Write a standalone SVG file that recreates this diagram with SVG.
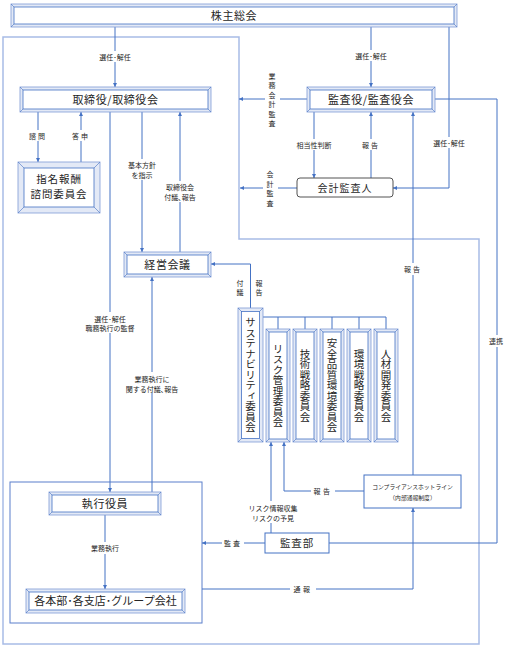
<svg xmlns="http://www.w3.org/2000/svg" width="506" height="647" viewBox="0 0 506 647">
<style>
text{font-family:"Noto Sans CJK JP","Noto Sans",sans-serif;fill:#262626}
.bo{fill:#e3e9f6;stroke:#7f9bd6;stroke-width:0.8}
.bi{fill:#fff;stroke:#4472c4;stroke-width:0.8}
.bd{fill:none;stroke:#4472c4;stroke-width:0.6}
.ln{fill:none;stroke:#4472c4;stroke-width:1}
.ar{marker-end:url(#ah)}
.t11{font-size:11px;text-anchor:middle;letter-spacing:0.6px}
.vt{font-size:10.5px;text-anchor:middle;writing-mode:vertical-rl}
.lb{font-size:7px;text-anchor:middle}
.bg{fill:#fff}
</style>
<defs>
<marker id="ah" viewBox="0 0 6 6" refX="6" refY="3" markerWidth="4" markerHeight="4" markerUnits="userSpaceOnUse" orient="auto">
<path d="M0,0 L6,3 L0,6 Z" fill="#4472c4"/>
</marker>
</defs>
<rect width="506" height="647" fill="#fff"/>

<g id="frames">
<path d="M3,37 H239 V239 H479 V644 H3 Z" fill="none" stroke="#a8bce6" stroke-width="1.5"/>
<rect x="10" y="482" width="192" height="141" fill="none" stroke="#5b7fcb" stroke-width="1"/>
</g>

<g id="connectors">
<path class="ln ar" d="M115,27 V87"/>
<path class="ln ar" d="M371,27 V87"/>
<path class="ln ar" d="M449,27 V188 H393"/>
<path class="ln ar" d="M307,99 H239"/>
<path class="ln ar" d="M297,188 H240"/>
<path class="ln ar" d="M38,112 V162"/>
<path class="ln ar" d="M81,162 V112"/>
<path class="ln ar" d="M110,112 V492"/>
<path class="ln ar" d="M142,112 V252"/>
<path class="ln ar" d="M180,252 V112"/>
<path class="ln ar" d="M152,492 V277"/>
<path class="ln ar" d="M314,112 V178"/>
<path class="ln ar" d="M371,178 V112"/>
<path class="ln ar" d="M413,475 V112"/>
<path class="ln ar" d="M250.5,308 V264 H211"/>
<path class="ln" d="M263,317 H386 M278,317 V329 M305,317 V329 M332,317 V329 M359,317 V329 M386,317 V329"/>
<path class="ln" d="M435,99 H497 V543 H329" stroke-width="2"/>
<path class="ln ar" d="M105,515 V589"/>
<path class="ln ar" d="M265,543 H202"/>
<path class="ln ar" d="M271,533 V442"/>
<path class="ln ar" d="M364,491 H284 V442"/>
<path class="ln ar" d="M202,589 H413 V508"/>
</g>

<g id="labels">
<rect class="bg" x="95" y="51" width="40" height="11"/>
<text class="lb" x="115" y="59.5">選任･解任</text>
<rect class="bg" x="351" y="50" width="40" height="11"/>
<text class="lb" x="371" y="58.5">選任･解任</text>
<rect class="bg" x="265" y="70" width="15" height="58"/>
<text class="lb"><tspan x="272" y="78.5">業</tspan><tspan x="272" y="88">務</tspan><tspan x="272" y="97.5">会</tspan><tspan x="272" y="107">計</tspan><tspan x="272" y="116.5">監</tspan><tspan x="272" y="126">査</tspan></text>
<rect class="bg" x="28" y="130" width="20" height="11"/>
<text class="lb" x="38" y="138.5" style="letter-spacing:2px">諮問</text>
<rect class="bg" x="71" y="130" width="20" height="11"/>
<text class="lb" x="81" y="138.5" style="letter-spacing:2px">答申</text>
<rect class="bg" x="126" y="159" width="32" height="21"/>
<text class="lb" x="142" y="167.5">基本方針</text>
<text class="lb" x="142" y="177.5">を指示</text>
<rect class="bg" x="162" y="181" width="36" height="21"/>
<text class="lb" x="180" y="189.5">取締役会</text>
<text class="lb" x="180" y="199.5">付議､報告</text>
<rect class="bg" x="294" y="139" width="40" height="11"/>
<text class="lb" x="314" y="147.5">相当性判断</text>
<rect class="bg" x="361" y="139" width="20" height="11"/>
<text class="lb" x="371" y="147.5" style="letter-spacing:2px">報告</text>
<rect class="bg" x="429" y="137" width="40" height="11"/>
<text class="lb" x="449" y="145.5">選任･解任</text>
<rect class="bg" x="263" y="168" width="15" height="40"/>
<text class="lb"><tspan x="270" y="177">会</tspan><tspan x="270" y="186.5">計</tspan><tspan x="270" y="196">監</tspan><tspan x="270" y="205.5">査</tspan></text>
<text class="lb"><tspan x="240" y="285.5">付</tspan><tspan x="240" y="294.5">議</tspan></text>
<text class="lb"><tspan x="259" y="285.5">報</tspan><tspan x="259" y="294.5">告</tspan></text>
<rect class="bg" x="403" y="263" width="20" height="12"/>
<text class="lb" x="413" y="271.5" style="letter-spacing:2px">報告</text>
<rect class="bg" x="486" y="335" width="20" height="12"/>
<text class="lb" x="496" y="343.5">連携</text>
<rect class="bg" x="82" y="312" width="56" height="21"/>
<text class="lb" x="110" y="321.5">選任･解任</text>
<text class="lb" x="110" y="331">職務執行の監督</text>
<rect class="bg" x="124" y="372" width="56" height="21"/>
<text class="lb" x="152" y="381.5">業務執行に</text>
<text class="lb" x="152" y="391.5">関する付議､報告</text>
<rect class="bg" x="88" y="542" width="34" height="12"/>
<text class="lb" x="105" y="550.5">業務執行</text>
<rect class="bg" x="222" y="537" width="22" height="12"/>
<text class="lb" x="233" y="545.5" style="letter-spacing:2px">監査</text>
<rect class="bg" x="244" y="501" width="58" height="22"/>
<text class="lb" x="273" y="510.5">リスク情報収集</text>
<text class="lb" x="273" y="520.5">リスクの予見</text>
<rect class="bg" x="311" y="485" width="24" height="12"/>
<text class="lb" x="323" y="493.5" style="letter-spacing:2.5px">報告</text>
<rect class="bg" x="290" y="583" width="26" height="12"/>
<text class="lb" x="303" y="591.5" style="letter-spacing:2.5px">通報</text>
</g>

<g id="n-kabunushi">
<rect class="bo" x="11" y="4" width="446" height="23"/>
<rect class="bi" x="14" y="7" width="440" height="17"/>
<path class="bd" d="M11,4 L14,7 M457,4 L454,7 M11,27 L14,24 M457,27 L454,24"/>
<text class="t11" x="234" y="19.5">株主総会</text>
</g>
<g id="n-torishimari">
<rect class="bo" x="20" y="87" width="191" height="25"/>
<rect class="bi" x="23" y="90" width="185" height="19"/>
<path class="bd" d="M20,87 L23,90 M211,87 L208,90 M20,112 L23,109 M211,112 L208,109"/>
<text class="t11" x="115.5" y="103.5">取締役/取締役会</text>
</g>
<g id="n-kansayaku">
<rect class="bo" x="307" y="87" width="128" height="25"/>
<rect class="bi" x="310" y="90" width="122" height="19"/>
<path class="bd" d="M307,87 L310,90 M435,87 L432,90 M307,112 L310,109 M435,112 L432,109"/>
<text class="t11" x="371" y="103.5">監査役/監査役会</text>
</g>
<g id="n-shimei">
<rect class="bo" x="18" y="162" width="82" height="51"/>
<rect class="bi" x="24" y="168" width="70" height="39"/>
<path class="bd" d="M18,162 L24,168 M100,162 L94,168 M18,213 L24,207 M100,213 L94,207"/>
<text class="t11" x="59" y="182.5" style="font-size:10.5px;letter-spacing:0.9px">指名報酬</text>
<text class="t11" x="59" y="197.5" style="font-size:10.5px;letter-spacing:0.9px">諮問委員会</text>
</g>
<g id="n-kaikei">
<rect x="297" y="178" width="96" height="19" rx="3" fill="#fff" stroke="#404040" stroke-width="0.9"/>
<text class="t11" x="345" y="191.5" style="font-size:10px;letter-spacing:1px">会計監査人</text>
</g>
<g id="n-keiei">
<rect class="bo" x="124" y="252" width="87" height="25"/>
<rect class="bi" x="127" y="255" width="81" height="19"/>
<path class="bd" d="M124,252 L127,255 M211,252 L208,255 M124,277 L127,274 M211,277 L208,274"/>
<text class="t11" x="167.5" y="268.5">経営会議</text>
</g>
<g id="n-sustainability">
<rect class="bo" x="238" y="308" width="25" height="134"/>
<rect class="bi" x="241.5" y="311.5" width="18" height="127"/>
<path class="bd" d="M238,308 L241.5,311.5 M263,308 L259.5,311.5 M238,442 L241.5,438.5 M263,442 L259.5,438.5"/>
<text class="vt" x="250.5" y="375">サステナビリティ委員会</text>
</g>
<g id="n-risk">
<rect class="bo" x="266" y="329" width="24" height="113"/>
<rect class="bi" x="269" y="332" width="18" height="107"/>
<path class="bd" d="M266,329 L269,332 M290,329 L287,332 M266,442 L269,439 M290,442 L287,439"/>
<text class="vt" x="278" y="385.5">リスク管理委員会</text>
</g>
<g id="n-gijutsu">
<rect class="bo" x="293" y="329" width="24" height="113"/>
<rect class="bi" x="296" y="332" width="18" height="107"/>
<path class="bd" d="M293,329 L296,332 M317,329 L314,332 M293,442 L296,439 M317,442 L314,439"/>
<text class="vt" x="305" y="385.5">技術戦略委員会</text>
</g>
<g id="n-anzen">
<rect class="bo" x="320" y="329" width="24" height="113"/>
<rect class="bi" x="323" y="332" width="18" height="107"/>
<path class="bd" d="M320,329 L323,332 M344,329 L341,332 M320,442 L323,439 M344,442 L341,439"/>
<text class="vt" x="332" y="385.5">安全品質環境委員会</text>
</g>
<g id="n-kankyo">
<rect class="bo" x="347" y="329" width="24" height="113"/>
<rect class="bi" x="350" y="332" width="18" height="107"/>
<path class="bd" d="M347,329 L350,332 M371,329 L368,332 M347,442 L350,439 M371,442 L368,439"/>
<text class="vt" x="359" y="385.5">環境戦略委員会</text>
</g>
<g id="n-jinzai">
<rect class="bo" x="374" y="329" width="24" height="113"/>
<rect class="bi" x="377" y="332" width="18" height="107"/>
<path class="bd" d="M374,329 L377,332 M398,329 L395,332 M374,442 L377,439 M398,442 L395,439"/>
<text class="vt" x="386" y="385.5">人材開発委員会</text>
</g>
<g id="n-hotline">
<rect x="364" y="475" width="97" height="33" fill="#fff" stroke="#4472c4" stroke-width="1"/>
<text class="lb" x="412.5" y="489" style="font-size:5.8px">コンプライアンスホットライン</text>
<text class="lb" x="412.5" y="500" style="font-size:5.8px">（内部通報制度）</text>
</g>
<g id="n-shikko">
<rect class="bo" x="49" y="492" width="112" height="23"/>
<rect class="bi" x="52" y="495" width="106" height="17"/>
<path class="bd" d="M49,492 L52,495 M161,492 L158,495 M49,515 L52,512 M161,515 L158,512"/>
<text class="t11" x="105" y="507.5">執行役員</text>
</g>
<g id="n-kansabu">
<rect x="265" y="533" width="64" height="20" fill="#fff" stroke="#4472c4" stroke-width="1"/>
<text class="t11" x="297" y="547" style="font-size:10.5px;letter-spacing:0.8px">監査部</text>
</g>
<g id="n-kakuhonbu">
<rect class="bo" x="26" y="589" width="159" height="24"/>
<rect class="bi" x="29" y="592" width="153" height="18"/>
<path class="bd" d="M26,589 L29,592 M185,589 L182,592 M26,613 L29,610 M185,613 L182,610"/>
<text class="t11" x="105.5" y="605" style="letter-spacing:0">各本部･各支店･グループ会社</text>
</g>
</svg>
